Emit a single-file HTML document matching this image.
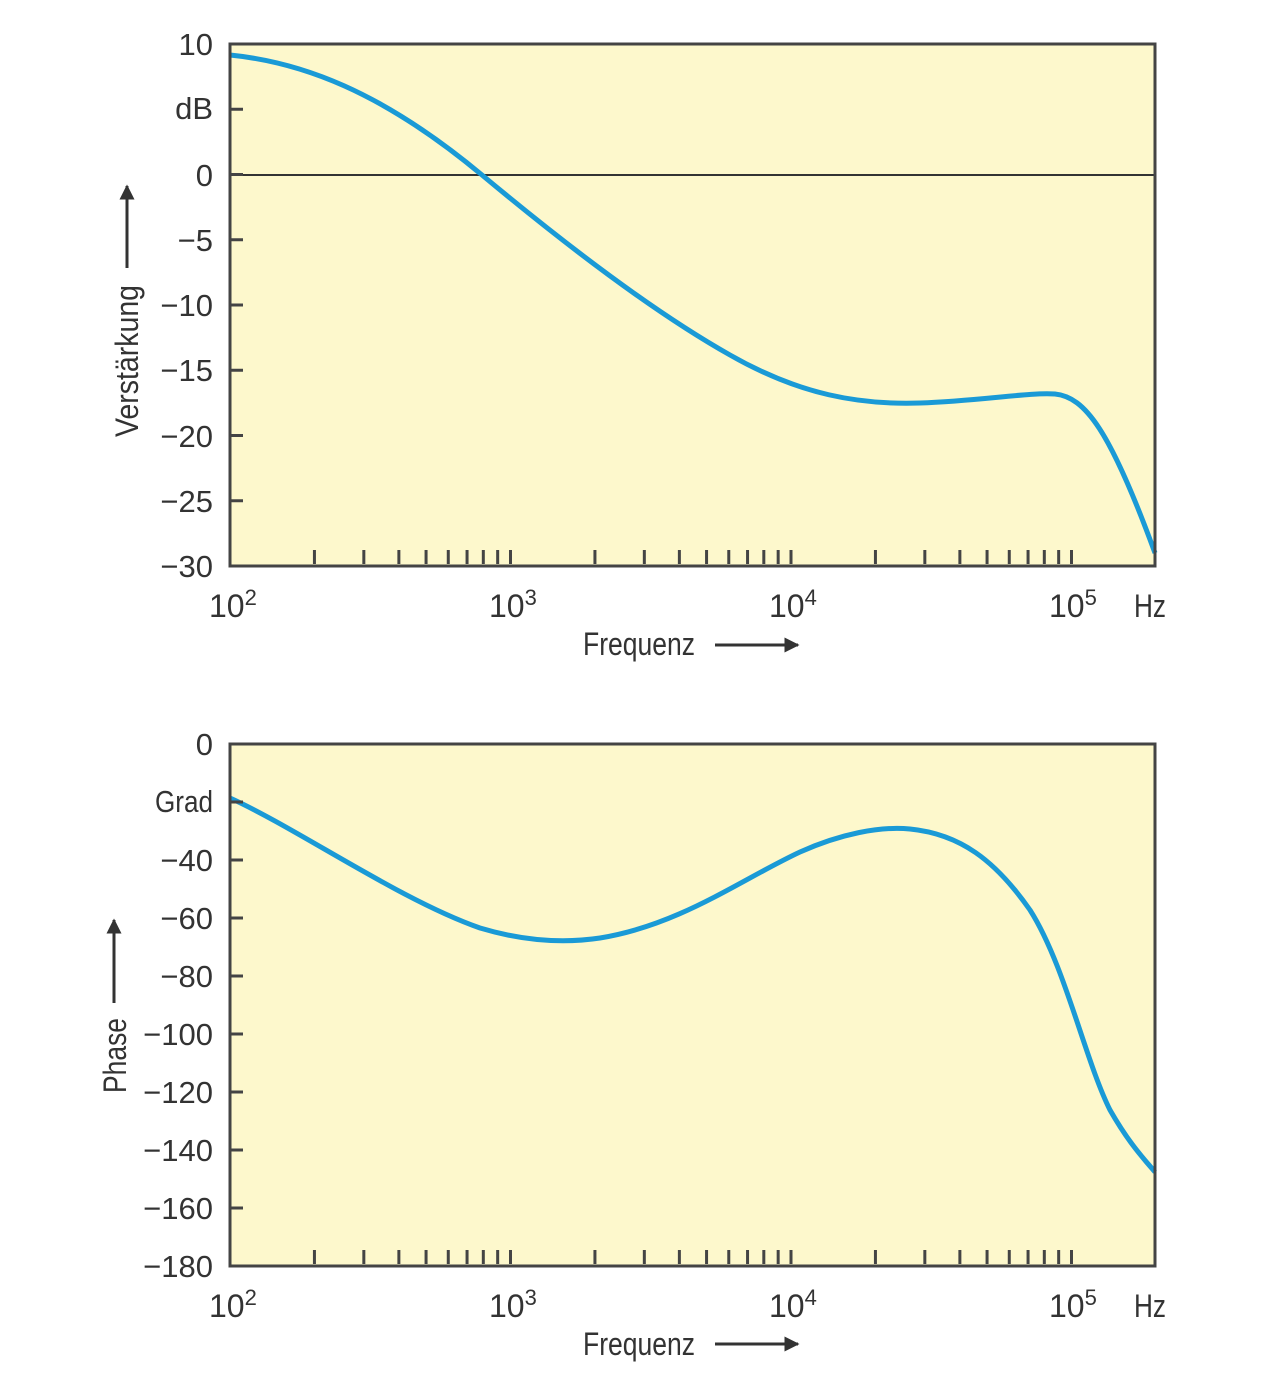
<!DOCTYPE html>
<html><head><meta charset="utf-8"><style>
html,body{margin:0;padding:0;background:#fff;}
svg{display:block;}
text{font-family:"Liberation Sans Narrow","Liberation Sans",sans-serif;fill:#333;}
</style></head><body>
<svg id="s" width="1280" height="1384" viewBox="0 0 1280 1384" xmlns="http://www.w3.org/2000/svg">
<defs>
<marker id="ah" viewBox="0 0 10 10" refX="9" refY="5" markerWidth="5" markerHeight="5" orient="auto"><path d="M0,0 L10,5 L0,10 z" fill="#333"/></marker>
</defs>
<!-- top plot -->
<rect x="230" y="44" width="925" height="522" fill="#fdf8cc"/>
<line x1="230" y1="175" x2="1155" y2="175" stroke="#333" stroke-width="2"/>
<path d="M230,55 C300,62 380,90 482,175 C560,240 650,310 730,355 C800,395 860,405 920,403 C980,401 1030,392 1055,394 C1085,397 1110,430 1155,553" fill="none" stroke="#1a9ad6" stroke-width="5"/>
<rect x="230" y="44" width="925" height="522" fill="none" stroke="#444" stroke-width="3"/>
<g id="t1"></g>
<g font-size="31" text-anchor="end">
<text x="213" y="55">10</text><text x="213" y="119">dB</text><text x="213" y="186">0</text>
<text x="213" y="251">−5</text><text x="213" y="316">−10</text><text x="213" y="381">−15</text>
<text x="213" y="447">−20</text><text x="213" y="512">−25</text><text x="213" y="577">−30</text>
</g>
<g font-size="32">
<text x="209" y="617">10<tspan font-size="22" dy="-12">2</tspan></text>
<text x="489" y="617">10<tspan font-size="22" dy="-12">3</tspan></text>
<text x="769" y="617">10<tspan font-size="22" dy="-12">4</tspan></text>
<text x="1049" y="617">10<tspan font-size="22" dy="-12">5</tspan></text>
<text x="1134" y="617" textLength="32" lengthAdjust="spacingAndGlyphs">Hz</text>
<text x="583" y="655" textLength="112" lengthAdjust="spacingAndGlyphs">Frequenz</text>
</g>
<line x1="715" y1="645" x2="798" y2="645" stroke="#333" stroke-width="3" marker-end="url(#ah)"/>
<text font-size="32" transform="translate(138,437) rotate(-90)" textLength="152" lengthAdjust="spacingAndGlyphs">Verstärkung</text>
<line x1="127" y1="268" x2="127" y2="186" stroke="#333" stroke-width="3" marker-end="url(#ah)"/>

<!-- bottom plot -->
<rect x="230" y="744" width="925" height="522" fill="#fdf8cc"/>
<path d="M230,798 C300,830 400,900 480,928 C520,940 560,944 600,938 C680,925 740,880 800,852 C840,834 880,826 910,829 C960,834 995,860 1030,910 C1065,965 1085,1060 1110,1110 C1130,1145 1145,1160 1155,1172" fill="none" stroke="#1a9ad6" stroke-width="5"/>
<rect x="230" y="744" width="925" height="522" fill="none" stroke="#444" stroke-width="3"/>
<g id="t2"></g>
<g font-size="31" text-anchor="end">
<text x="213" y="755">0</text><text x="213" y="812" textLength="58" lengthAdjust="spacingAndGlyphs">Grad</text><text x="213" y="871">−40</text>
<text x="213" y="929">−60</text><text x="213" y="987">−80</text><text x="213" y="1045">−100</text>
<text x="213" y="1103">−120</text><text x="213" y="1161">−140</text><text x="213" y="1219">−160</text><text x="213" y="1277">−180</text>
</g>
<g font-size="32">
<text x="209" y="1317">10<tspan font-size="22" dy="-12">2</tspan></text>
<text x="489" y="1317">10<tspan font-size="22" dy="-12">3</tspan></text>
<text x="769" y="1317">10<tspan font-size="22" dy="-12">4</tspan></text>
<text x="1049" y="1317">10<tspan font-size="22" dy="-12">5</tspan></text>
<text x="1134" y="1317" textLength="32" lengthAdjust="spacingAndGlyphs">Hz</text>
<text x="583" y="1355" textLength="112" lengthAdjust="spacingAndGlyphs">Frequenz</text>
</g>
<line x1="715" y1="1344" x2="798" y2="1344" stroke="#333" stroke-width="3" marker-end="url(#ah)"/>
<text font-size="32" transform="translate(126,1093) rotate(-90)" textLength="75" lengthAdjust="spacingAndGlyphs">Phase</text>
<line x1="114" y1="1003" x2="114" y2="920" stroke="#333" stroke-width="3" marker-end="url(#ah)"/>
</svg>
<script>
(function(){
var ns="http://www.w3.org/2000/svg";
function ticks(gid,by,ys){
 var g=document.getElementById(gid);
 for(var d=0;d<3;d++){for(var k=2;k<=10;k++){
  var x=230+(d+Math.log10(k))*280.5;
  var l=document.createElementNS(ns,"line");
  l.setAttribute("x1",x);l.setAttribute("x2",x);l.setAttribute("y1",by);l.setAttribute("y2",by-14);
  l.setAttribute("stroke","#444");l.setAttribute("stroke-width","3");g.appendChild(l);}}
 ys.forEach(function(y){var l=document.createElementNS(ns,"line");
  l.setAttribute("x1",230);l.setAttribute("x2",243);l.setAttribute("y1",y);l.setAttribute("y2",y);
  l.setAttribute("stroke","#444");l.setAttribute("stroke-width","3");g.appendChild(l);});
}
var a=[],b=[];
for(var i=1;i<8;i++)a.push(44+i*65.25);
for(var j=1;j<9;j++)b.push(744+j*58);
ticks("t1",564,a);ticks("t2",1264,b);
})();
</script>
</body></html>
